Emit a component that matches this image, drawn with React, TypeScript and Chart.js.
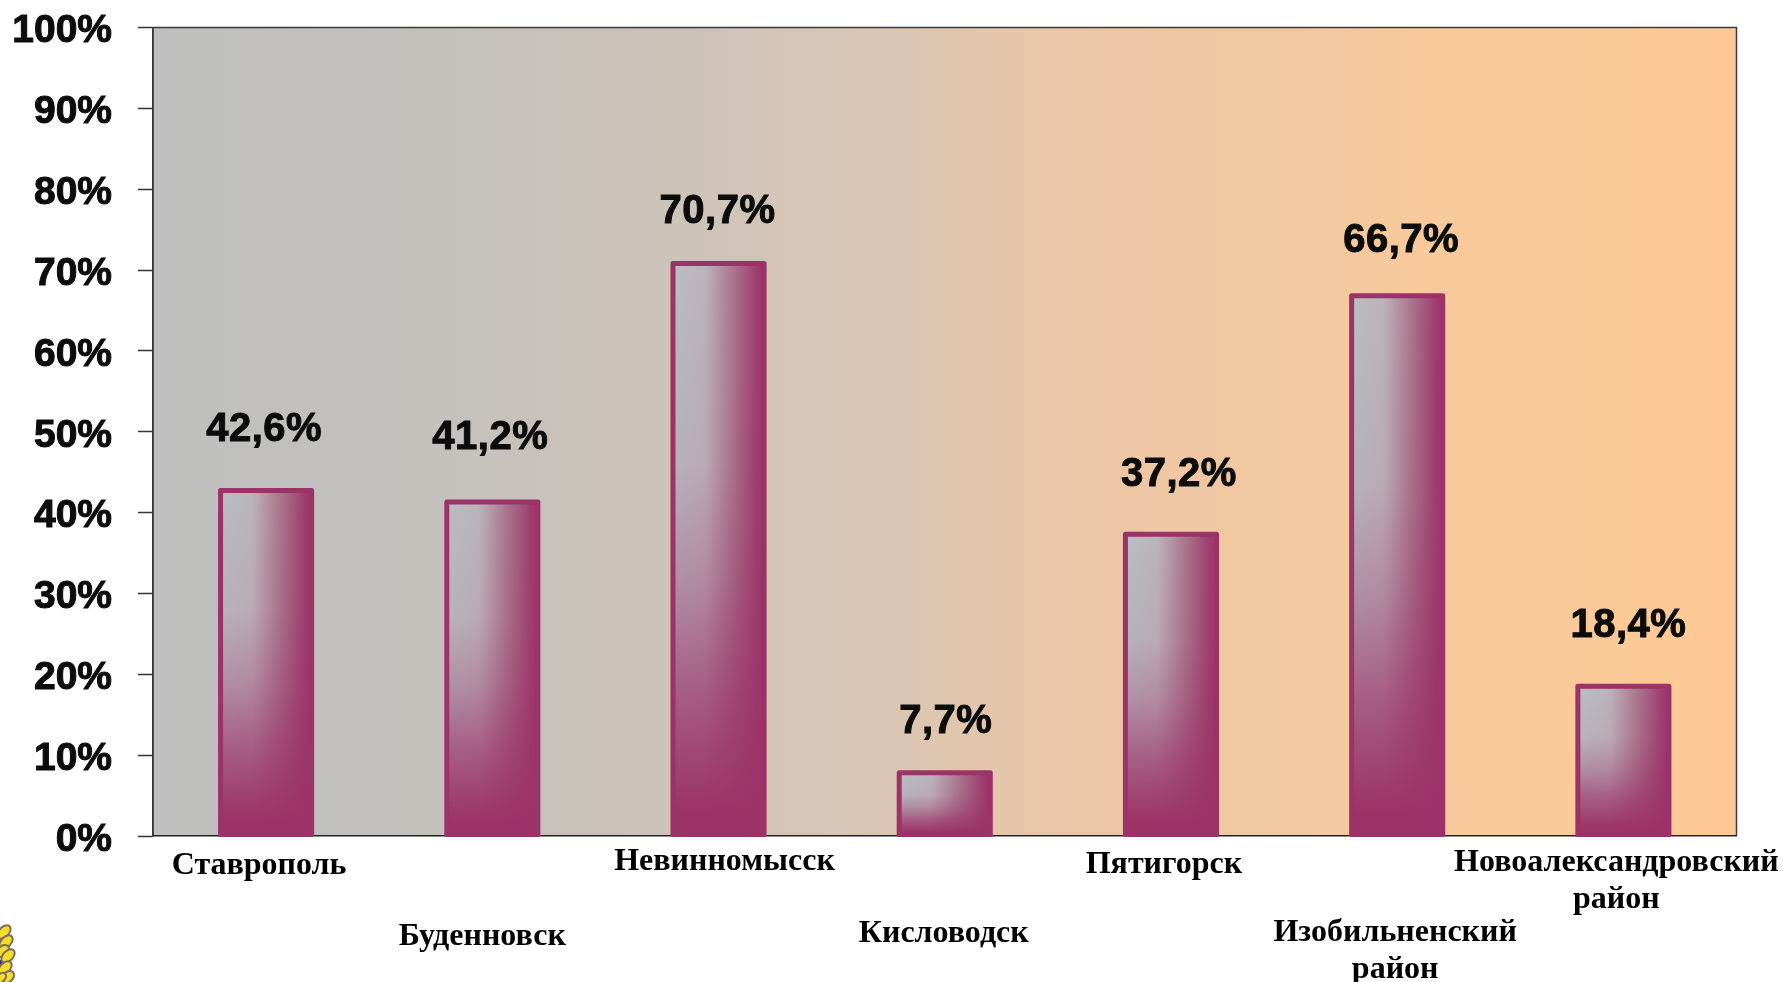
import React, { useEffect, useRef } from "react";
import { Chart, registerables } from "chart.js";

Chart.register(...registerables);

const categories = ["Ставрополь", "Буденновск", "Невинномысск", "Кисловодск", "Пятигорск", "Изобильненский район", "Новоалександровский район"];
const values = [42.6, 41.2, 70.7, 7.7, 37.2, 66.7, 18.4];
const valueLabels = ["42,6%", "41,2%", "70,7%", "7,7%", "37,2%", "66,7%", "18,4%"];

// Hand-placed label nudges of the original slide
const valueLabelDx = [-2, -2, -1, 1, 8, 4, 5];
const valueLabelGap = [51, 54, 41, 41, 49, 45, 50];
const categoryLines = [["Ставрополь"], ["Буденновск"], ["Невинномысск"], ["Кисловодск"], ["Пятигорск"], ["Изобильненский", "район"], ["Новоалександровский", "район"]];
const categoryDx = [-7, -10, 6, -1, -7, -2, -7];
const categoryDy = [30, 101, 26, 98, 29, 97, 27];

const MAGENTA = "#9c3368";
const SERIF = '"Liberation Serif", serif';
const SANS = '"Liberation Sans", Arial, sans-serif';

const paint = {
  id: "paint",
  beforeDraw(chart: any) {
    const { ctx, chartArea: a } = chart;
    const g = ctx.createLinearGradient(a.left, 0, a.right, 0);
    g.addColorStop(0, "#bfbfbf");
    g.addColorStop(0.12, "#c1c0bd");
    g.addColorStop(0.3, "#cac2ba");
    g.addColorStop(0.45, "#d9c6b5");
    g.addColorStop(0.6, "#ecc6a4");
    g.addColorStop(0.8, "#f7c99c");
    g.addColorStop(1, "#fec995");
    ctx.save();
    ctx.fillStyle = g;
    ctx.fillRect(a.left, a.top, a.right - a.left, a.bottom - a.top);
    ctx.strokeStyle = "#3a3a3a";
    ctx.lineWidth = 1.5;
    ctx.beginPath();
    ctx.moveTo(a.left, a.bottom);
    ctx.lineTo(a.left, a.top);
    ctx.lineTo(a.right, a.top);
    ctx.lineTo(a.right, a.bottom);
    ctx.stroke();
    ctx.restore();
  },
  afterDatasetsDraw(chart: any) {
    const { ctx } = chart;
    const bars = chart.getDatasetMeta(0).data;
    const bottom = chart.chartArea.bottom;
    bars.forEach((bar: any, i: number) => {
      const x0 = bar.x - bar.width / 2;
      const x1 = bar.x + bar.width / 2;
      const y0 = bar.y - 1;
      const y1 = bar.base - 1;
      const h = y1 - y0;
      ctx.save();
      ctx.beginPath();
      ctx.rect(x0, y0, x1 - x0, h);
      ctx.clip();
      const hg = ctx.createLinearGradient(x0, 0, x1, 0);
      hg.addColorStop(0, "#b9bdc2");
      hg.addColorStop(0.35, "#bcb4ba");
      hg.addColorStop(0.65, "#a9778e");
      hg.addColorStop(0.92, "#9e3f6e");
      hg.addColorStop(1, MAGENTA);
      ctx.fillStyle = hg;
      ctx.fillRect(x0, y0, x1 - x0, h);
      const vg = ctx.createLinearGradient(0, y0, 0, y1);
      vg.addColorStop(0, "rgba(156,51,104,0)");
      vg.addColorStop(0.35, "rgba(156,51,104,0.08)");
      vg.addColorStop(0.55, "rgba(156,51,104,0.32)");
      vg.addColorStop(0.75, "rgba(156,51,104,0.68)");
      vg.addColorStop(0.96, "rgba(156,51,104,1)");
      ctx.fillStyle = vg;
      ctx.fillRect(x0, y0, x1 - x0, h);
      ctx.restore();

      ctx.save();
      ctx.strokeStyle = MAGENTA;
      ctx.lineWidth = 5;
      ctx.lineJoin = "round";
      ctx.strokeRect(x0, y0, x1 - x0, h);
      ctx.restore();

      ctx.save();
      ctx.fillStyle = "#0c0c0c";
      ctx.strokeStyle = "#0c0c0c";
      ctx.lineWidth = 1;
      ctx.font = `bold 40px ${SANS}`;
      (ctx as any).letterSpacing = "0.5px";
      ctx.textAlign = "center";
      ctx.textBaseline = "alphabetic";
      ctx.fillText(valueLabels[i], bar.x + valueLabelDx[i], bar.y - valueLabelGap[i]);
      ctx.strokeText(valueLabels[i], bar.x + valueLabelDx[i], bar.y - valueLabelGap[i]);
      ctx.restore();

      ctx.save();
      ctx.fillStyle = "#000";
      ctx.font = `bold 32px ${SERIF}`;
      ctx.textAlign = "center";
      ctx.textBaseline = "middle";
      categoryLines[i].forEach((line, k) => {
        ctx.fillText(line, bar.x + categoryDx[i], bottom + categoryDy[i] + k * 37);
      });
      ctx.restore();
    });
  },
  afterDraw(chart: any) {
    // Edge of the emblem cut off by the slide's lower-left corner
    const { ctx } = chart;
    const leaves = [[4, 932, 8, 5], [6, 942, 8, 5], [3, 951, 7, 5], [8, 956, 8, 5], [5, 968, 8, 5], [8, 977, 7, 5], [1, 978, 6, 4]];
    ctx.save();
    ctx.fillStyle = "#2b2a6b";
    ctx.fillRect(0, 960, 6, 12);
    leaves.forEach(([x, y, rx, ry]) => {
      ctx.beginPath();
      ctx.ellipse(x, y, rx, ry, -0.8, 0, Math.PI * 2);
      ctx.fillStyle = "#f2dc2e";
      ctx.strokeStyle = "#7d6f55";
      ctx.lineWidth = 2;
      ctx.fill();
      ctx.stroke();
    });
    ctx.restore();
  },
};

export default function App() {
  const ref = useRef<HTMLCanvasElement>(null);
  useEffect(() => {
    const chart = new Chart(ref.current as HTMLCanvasElement, {
      type: "bar",
      data: {
        labels: categories,
        datasets: [{ data: values, backgroundColor: "rgba(0,0,0,0)", borderWidth: 0, barPercentage: 0.4027, categoryPercentage: 1 }],
      },
      options: {
        animation: false,
        responsive: false,
        layout: { padding: { top: 27.5, right: 46.5, left: 0, bottom: 0 } },
        plugins: { legend: { display: false }, tooltip: { enabled: false } },
        scales: {
          x: {
            grid: { display: false },
            border: { display: true, color: "#222", width: 1.5 },
            ticks: { display: false },
            afterFit: (s: any) => { s.height = 146; },
          },
          y: {
            min: 0,
            max: 100,
            grid: { drawOnChartArea: false, drawTicks: true, tickLength: 15, tickColor: "#333", tickWidth: 1.5 },
            border: { display: true, color: "#3a3a3a", width: 1.5 },
            ticks: {
              stepSize: 10,
              padding: 26,
              labelOffset: 4,
              color: "#0c0c0c",
              textStrokeColor: "#0c0c0c",
              textStrokeWidth: 1,
              font: { family: SANS, size: 39, weight: "bold" },
              callback: (v: any) => `${v}%`,
            },
            afterFit: (s: any) => { s.width = 153; s.paddingTop = 0; s.paddingBottom = 0; },
          },
        },
      },
      plugins: [paint],
    } as any);
    return () => chart.destroy();
  }, []);
  return (
    <div style={{ position: "absolute", left: 0, top: 0, width: 1783, height: 982, background: "#fff" }}>
      <canvas ref={ref} width={1783} height={982} style={{ display: "block" }} />
    </div>
  );
}
